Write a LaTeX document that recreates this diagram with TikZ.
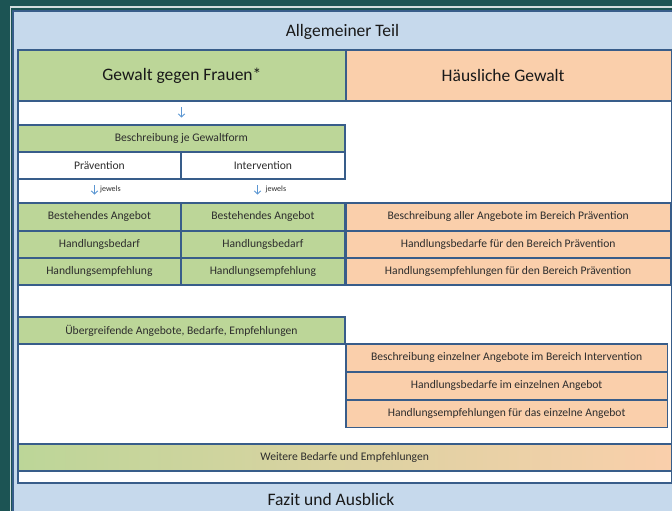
\documentclass[tikz,border=0pt]{standalone}
\usepackage{fontspec}
\setmainfont{Carlito}
\usetikzlibrary{arrows.meta}
\definecolor{bg}{RGB}{28,84,84}
\definecolor{frameblue}{RGB}{56,93,138}
\definecolor{lblue}{RGB}{198,217,236}
\definecolor{grn}{RGB}{188,214,152}
\definecolor{pch}{RGB}{250,207,171}
\definecolor{arrowblue}{RGB}{91,150,210}
\definecolor{txt}{RGB}{45,45,45}
\definecolor{titletxt}{RGB}{25,25,25}
\begin{document}
\begin{tikzpicture}[x=1pt,y=-1pt,
  cell/.style={draw=frameblue, line width=1.8pt, inner sep=0pt, anchor=north west, text=txt, font=\fontsize{11.6}{13}\selectfont},
  gcell/.style={cell, fill=grn},
  pcell/.style={cell, fill=pch},
  wcell/.style={cell, fill=white},
  bigtext/.style={text=titletxt, font=\fontsize{17.5}{20}\selectfont},
  title/.style={bigtext, inner sep=0pt},
  darr/.style={arrowblue, line width=0.9pt, -{Straight Barb[length=3pt,width=6.5pt]}},
  tinylabel/.style={text=txt, font=\fontsize{8}{9}\selectfont, inner sep=0pt, anchor=west}]
\useasboundingbox (0,0) rectangle (672,511);
\clip (0,0) rectangle (672,511);
\fill[bg] (0,0) rectangle (672,511);
\draw[white!80!bg, line width=1.5pt] (10.5,7) rectangle (690,530);
\draw[frameblue, line width=2pt, fill=lblue] (13,11) rectangle (690,530);
\node[title] (allg) at (342.5,31.5) {Allgemeiner Teil};
\node[title] (fazit) at (331,499.5) {Fazit und Ausblick};
% content frame
\node[wcell, minimum width=653.5, minimum height=433] (content) at (17,49) {};
% headers
\node[gcell, minimum width=328, minimum height=51, bigtext] (gg) at (17,49) {Gewalt gegen Frauen*};
\node[pcell, minimum width=325.5, minimum height=51, bigtext] (hg) at (345,49) {\hspace*{-11pt}Häusliche Gewalt};
% arrow under header
\coordinate (a1s) at (181.5,107);
\coordinate (a1e) at (181.5,117.5);
\draw[darr] (a1s) -- (a1e);
% Beschreibung je Gewaltform
\node[gcell, minimum width=327, minimum height=27] (bjg) at (17,124) {Beschreibung je Gewaltform};
\node[wcell, minimum width=163, minimum height=27] (prae) at (17,151) {Prävention};
\node[wcell, minimum width=164, minimum height=27] (interv) at (180,151) {Intervention};
% jewels arrows
\coordinate (j1s) at (94.5,185);
\coordinate (j1e) at (94.5,194.5);
\draw[darr] (j1s) -- (j1e);
\node[tinylabel] (jw1) at (100,189.5) {jewels};
\coordinate (j2s) at (257.5,185);
\coordinate (j2e) at (257.5,194.5);
\draw[darr] (j2s) -- (j2e);
\node[tinylabel] (jw2) at (265.5,189.5) {jewels};
% green rows
\node[gcell, minimum width=163, minimum height=28] (pa) at (17,202) {Bestehendes Angebot};
\node[gcell, minimum width=164, minimum height=28] (ia) at (180,202) {Bestehendes Angebot};
\node[gcell, minimum width=163, minimum height=27] (pb) at (17,230) {Handlungsbedarf};
\node[gcell, minimum width=164, minimum height=27] (ib) at (180,230) {Handlungsbedarf};
\node[gcell, minimum width=163, minimum height=27] (pe) at (17,257) {Handlungsempfehlung};
\node[gcell, minimum width=164, minimum height=27] (ie) at (180,257) {Handlungsempfehlung};
% peach prevention rows
\node[pcell, minimum width=324.5, minimum height=28] (hpa) at (345,202) {Beschreibung aller Angebote im Bereich Prävention};
\node[pcell, minimum width=324.5, minimum height=27] (hpb) at (345,230) {Handlungsbedarfe für den Bereich Prävention};
\node[pcell, minimum width=324.5, minimum height=27] (hpe) at (345,257) {Handlungsempfehlungen für den Bereich Prävention};
% uebergreifend
\node[gcell, minimum width=327, minimum height=27] (ueb) at (17,316) {Übergreifende Angebote, Bedarfe, Empfehlungen};
% peach intervention rows
\node[pcell, minimum width=321.5, minimum height=28] (hia) at (345,343) {Beschreibung einzelner Angebote im Bereich Intervention};
\node[pcell, minimum width=321.5, minimum height=28] (hib) at (345,371) {Handlungsbedarfe im einzelnen Angebot};
\node[pcell, minimum width=321.5, minimum height=27.5] (hie) at (345,399) {Handlungsempfehlungen für das einzelne Angebot};
% weitere
\node[cell, left color=grn, right color=pch, minimum width=653.5, minimum height=27] (weit) at (17,443) {Weitere Bedarfe und Empfehlungen};
\end{tikzpicture}
\end{document}
